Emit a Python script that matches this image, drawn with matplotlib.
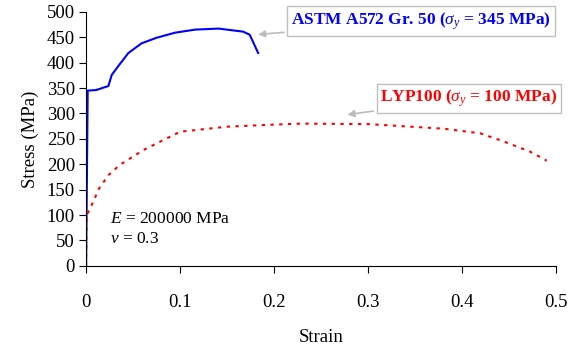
import matplotlib.pyplot as plt

plt.rcParams['font.family'] = ['Liberation Serif', 'DejaVu Serif']
plt.rcParams['mathtext.fontset'] = 'custom'
plt.rcParams['mathtext.rm'] = 'Liberation Serif'
plt.rcParams['mathtext.it'] = 'Liberation Serif:italic'
plt.rcParams['mathtext.bf'] = 'Liberation Serif:bold'

# ASTM A572 Gr. 50 curve
astm_strain = [0, 0.0017, 0.0106, 0.0237, 0.0273, 0.0354, 0.045, 0.059, 0.075,
               0.0947, 0.116, 0.141, 0.167, 0.174, 0.183]
astm_stress = [0, 345, 346, 354, 376, 396, 419, 438, 449,
               459, 465, 467, 461, 455, 419]

# LYP100 curve
lyp_strain = [0, 0.0005, 0.006, 0.014, 0.024, 0.036, 0.061, 0.1, 0.15, 0.2,
              0.228, 0.3, 0.345, 0.38, 0.419, 0.444, 0.472, 0.49]
lyp_stress = [0, 99, 120, 153, 179, 199, 228, 264, 274, 278,
              280, 279, 274, 270, 261, 245, 225, 207]

xticks = [0, 0.1, 0.2, 0.3, 0.4, 0.5]
yticks = list(range(0, 501, 50))

fig = plt.figure(figsize=(5.74, 3.48), dpi=100)
ax = fig.add_axes([0.15, 0.236, 0.819, 0.730])

ax.plot(astm_strain, astm_stress, color='#0000ff', lw=1.5)
ax.plot(lyp_strain, lyp_stress, color='#ff0000', lw=1.5, ls=(0, (1.6, 2.6)))

ax.set_xlim(0, 0.5)
ax.set_ylim(0, 500)
ax.set_xticks(xticks)
ax.set_xticklabels(['0', '0.1', '0.2', '0.3', '0.4', '0.5'])
ax.set_yticks(yticks)
ax.tick_params(axis='x', direction='out', length=5, pad=15, labelsize=13.5)
ax.tick_params(axis='y', direction='out', length=5, pad=3, labelsize=13.5)
for s in ['top', 'right']:
    ax.spines[s].set_visible(False)

ax.set_xlabel('Strain', fontsize=13.5, labelpad=13)
ax.set_ylabel('Stress (MPa)', fontsize=13.5, labelpad=6)

ax.text(0.0255, 92, r'$E$ = 200000 MPa', fontsize=12.5, va='center')
ax.text(0.0255, 52, r'$v$ = 0.3', fontsize=12.5, va='center')

box = dict(boxstyle='square,pad=0.22', fc='white', ec='#c0c0c0', lw=1)
arrow = dict(arrowstyle='-|>', color='#bbbbbb', lw=1.2, mutation_scale=10)
ax.annotate(r'ASTM A572 Gr. 50 ($\sigma_y$ = 345 MPa)', xy=(0.180, 455),
            xytext=(0.218, 482), fontsize=12.5, fontweight='bold', color='#0000ff',
            va='center', ha='left', bbox=box, arrowprops=arrow)
ax.annotate(r'LYP100 ($\sigma_y$ = 100 MPa)', xy=(0.275, 297),
            xytext=(0.313, 330), fontsize=12.5, fontweight='bold', color='#ff0000',
            va='center', ha='left', bbox=box, arrowprops=arrow)

fig.savefig('out.png', dpi=100)
